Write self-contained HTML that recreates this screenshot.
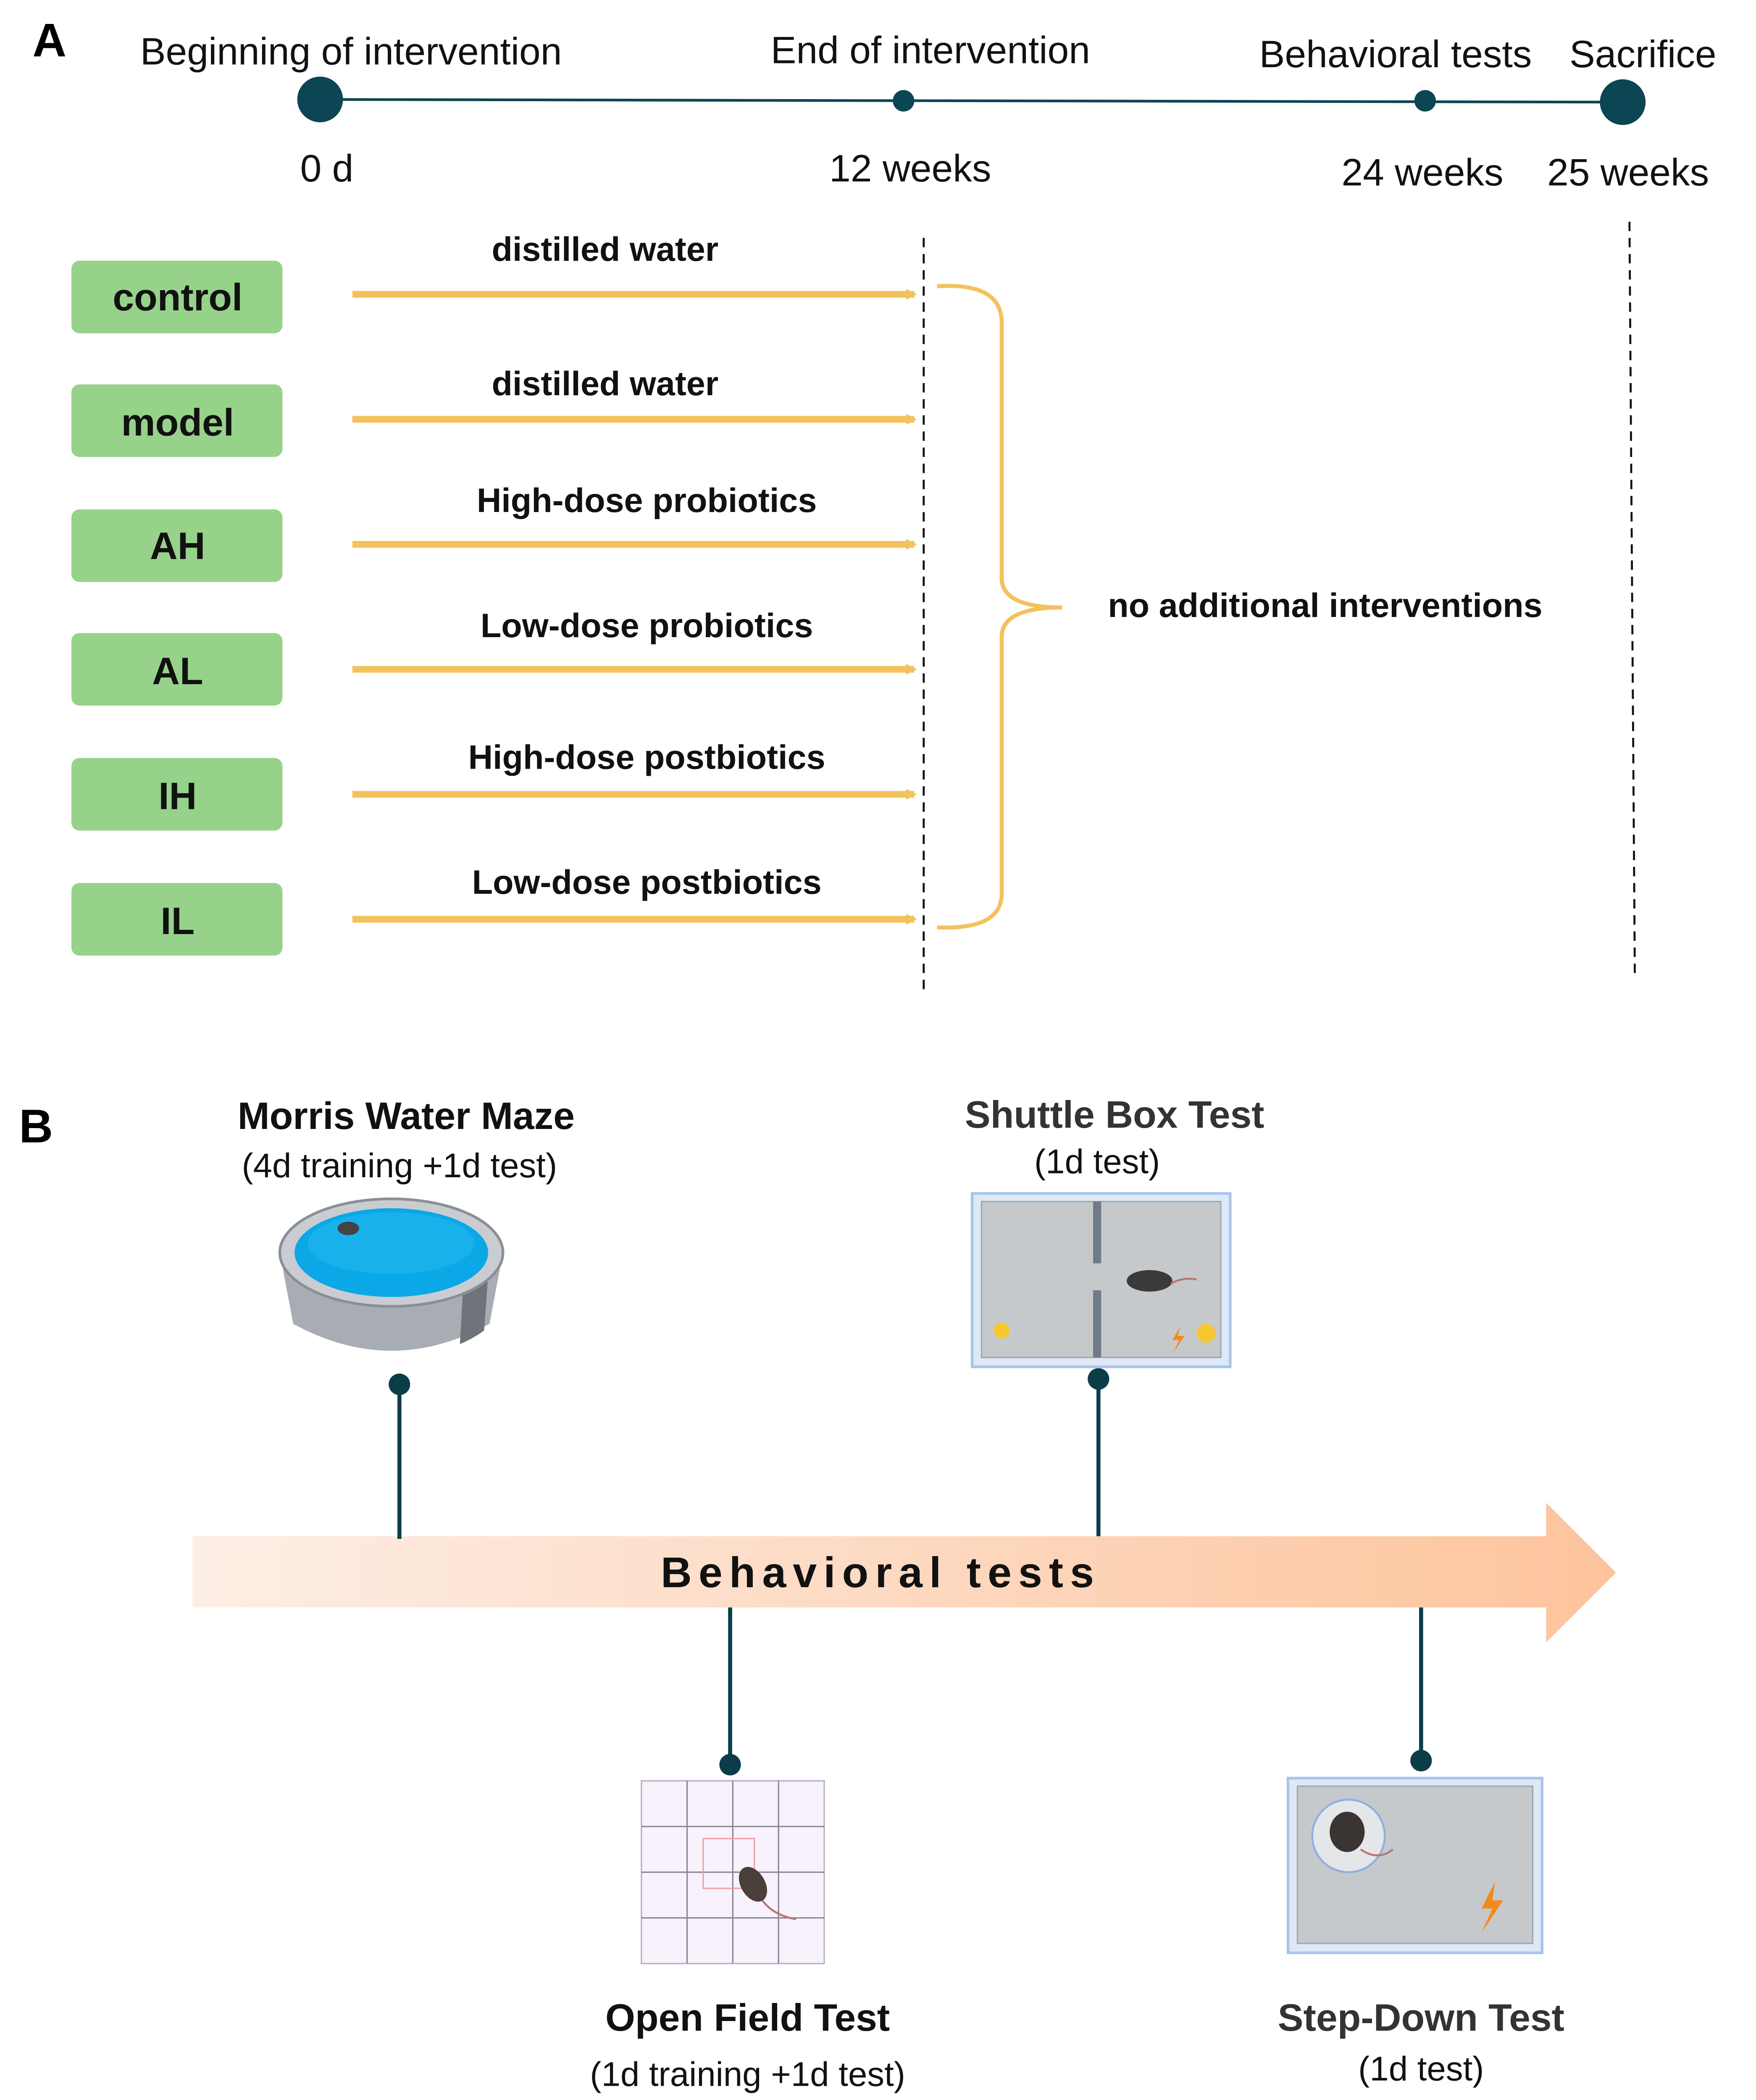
<!DOCTYPE html>
<html><head><meta charset="utf-8"><style>
html,body{margin:0;padding:0;background:#fff;overflow:hidden;width:4180px;height:5088px;}
svg{display:block;}
text{font-family:"Liberation Sans",Arial,sans-serif;}
</style></head><body>
<svg width="4180" height="5088" viewBox="0 0 1306 1590" xmlns="http://www.w3.org/2000/svg">
<defs>
<linearGradient id="ag" x1="0" x2="1" y1="0" y2="0">
<stop offset="0" stop-color="#fdeee5"/><stop offset="1" stop-color="#fdc49c"/>
</linearGradient>
<marker id="ya" markerWidth="8" markerHeight="8" refX="6" refY="4" orient="auto" markerUnits="userSpaceOnUse">
<path d="M0,0 L8,4 L0,8 z" fill="#f3c25c"/>
</marker>
</defs>
<rect width="1306" height="1590" fill="#fff"/>
<!-- Panel A -->
<text x="24" y="42" font-size="35" font-weight="bold">A</text>
<line x1="238" y1="74" x2="1207" y2="76" stroke="#0c4553" stroke-width="2"/>
<circle cx="238" cy="74" r="17" fill="#0c4553"/>
<circle cx="1207" cy="76" r="17" fill="#0c4553"/>
<circle cx="672" cy="75" r="8" fill="#0c4553"/>
<circle cx="1060" cy="75" r="8" fill="#0c4553"/>
<g font-size="28.5" fill="#111" text-anchor="middle">
<text x="261" y="48">Beginning of intervention</text>
<text x="692" y="47">End of intervention</text>
<text x="1038" y="50">Behavioral tests</text>
<text x="1222" y="50">Sacrifice</text>
<text x="243" y="135">0 d</text>
<text x="677" y="135">12 weeks</text>
<text x="1058" y="138">24 weeks</text>
<text x="1211" y="138">25 weeks</text>
</g>
<g fill="#97d28b">
<rect x="53" y="194" width="157" height="54" rx="6"/>
<rect x="53" y="286" width="157" height="54" rx="6"/>
<rect x="53" y="379" width="157" height="54" rx="6"/>
<rect x="53" y="471" width="157" height="54" rx="6"/>
<rect x="53" y="564" width="157" height="54" rx="6"/>
<rect x="53" y="657" width="157" height="54" rx="6"/>
</g>
<g font-size="28.5" font-weight="bold" text-anchor="middle" fill="#111">
<text x="132" y="231">control</text>
<text x="132" y="324">model</text>
<text x="132" y="416">AH</text>
<text x="132" y="509">AL</text>
<text x="132" y="602">IH</text>
<text x="132" y="695">IL</text>
</g>
<g stroke="#f3c25c" stroke-width="5" marker-end="url(#ya)">
<line x1="262" y1="219" x2="680" y2="219"/>
<line x1="262" y1="312" x2="680" y2="312"/>
<line x1="262" y1="405" x2="680" y2="405"/>
<line x1="262" y1="498" x2="680" y2="498"/>
<line x1="262" y1="591" x2="680" y2="591"/>
<line x1="262" y1="684" x2="680" y2="684"/>
</g>
<g font-size="25.3" font-weight="bold" text-anchor="middle" fill="#111">
<text x="450" y="194">distilled water</text>
<text x="450" y="294">distilled water</text>
<text x="481" y="381">High-dose probiotics</text>
<text x="481" y="474">Low-dose  probiotics</text>
<text x="481" y="572">High-dose postbiotics</text>
<text x="481" y="665">Low-dose postbiotics</text>
</g>
<line x1="687" y1="177" x2="687" y2="740" stroke="#111" stroke-width="1.5" stroke-dasharray="7,5"/>
<line x1="1212" y1="165" x2="1216" y2="727" stroke="#111" stroke-width="1.5" stroke-dasharray="7,5"/>
<path d="M697,213 Q745,210 745,240 L745,430 Q745,452 790,452 Q745,452 745,474 L745,665 Q745,692 697,690" fill="none" stroke="#f3c25c" stroke-width="3"/>
<text x="824" y="459" font-size="25.3" font-weight="bold" fill="#111">no additional interventions</text>

<!-- Panel B -->
<text x="14" y="850" font-size="35" font-weight="bold">B</text>
<path d="M143,1143 L1150,1143 L1150,1118 L1202,1170 L1150,1222 L1150,1196 L143,1196 z" fill="url(#ag)"/>
<text x="655" y="1181" font-size="32" font-weight="bold" text-anchor="middle" letter-spacing="5" fill="#111">Behavioral tests</text>
<g stroke="#0b3d48" stroke-width="3">
<line x1="297" y1="1030" x2="297" y2="1145"/>
<line x1="817" y1="1026" x2="817" y2="1143"/>
<line x1="543" y1="1196" x2="543" y2="1313"/>
<line x1="1057" y1="1196" x2="1057" y2="1310"/>
</g>
<g fill="#0b3d48">
<circle cx="297" cy="1030" r="8"/><circle cx="817" cy="1026" r="8"/>
<circle cx="543" cy="1313" r="8"/><circle cx="1057" cy="1310" r="8"/>
</g>
<text x="302" y="840" font-size="28.5" font-weight="bold" text-anchor="middle" fill="#111">Morris Water Maze</text>
<text x="297" y="876" font-size="25.5" text-anchor="middle" fill="#111">(4d training +1d test)</text>
<text x="829" y="839" font-size="28.5" font-weight="bold" text-anchor="middle" fill="#333">Shuttle Box Test</text>
<text x="816" y="873" font-size="25.5" text-anchor="middle" fill="#111">(1d test)</text>
<text x="556" y="1511" font-size="28.5" font-weight="bold" text-anchor="middle" fill="#111">Open Field Test</text>
<text x="556" y="1552" font-size="25.5" text-anchor="middle" fill="#111">(1d training +1d test)</text>
<text x="1057" y="1511" font-size="28.5" font-weight="bold" text-anchor="middle" fill="#333">Step-Down Test</text>
<text x="1057" y="1548" font-size="25.5" text-anchor="middle" fill="#111">(1d test)</text>

<!-- pool -->
<path d="M208,932 L218,985 Q291,1025 364,985 L374,932 z" fill="#a8adb3"/>
<path d="M345,945 L364,935 L360,990 Q350,997 342,1000 z" fill="#6f747a"/>
<ellipse cx="291" cy="932" rx="83" ry="40" fill="#c9ccd0" stroke="#8a8f95" stroke-width="2"/>
<ellipse cx="291" cy="932" rx="72" ry="33" fill="#0aa8e6"/>
<ellipse cx="291" cy="925" rx="62" ry="23" fill="#22b8f0" opacity="0.6"/>
<ellipse cx="259" cy="914" rx="8" ry="5" fill="#444"/>

<!-- shuttle box -->
<rect x="723" y="888" width="192" height="129" fill="#dde8f8" stroke="#a9c4ea" stroke-width="2"/>
<rect x="730" y="894" width="178" height="116" fill="#c6c9cc" stroke="#9aa" stroke-width="1"/>
<rect x="813" y="894" width="6" height="46" fill="#6f7c88"/>
<rect x="813" y="960" width="6" height="50" fill="#6f7c88"/>
<ellipse cx="855" cy="953" rx="17" ry="8" fill="#3a3a3a"/>
<path d="M871,955 Q880,950 890,952" stroke="#b77" fill="none" stroke-width="1.5"/>
<circle cx="745" cy="990" r="6" fill="#f7c730"/>
<circle cx="897" cy="992" r="7" fill="#f7c730"/>
<path d="M878,987 L872,997 L877,997 L873,1006 L881,994 L876,994 z" fill="#f28a1a"/>

<!-- open field -->
<rect x="477" y="1325" width="136" height="136" fill="#f7f2fb" stroke="#b8aec4" stroke-width="1"/>
<g stroke="#8c8598" stroke-width="1">
<line x1="511" y1="1325" x2="511" y2="1461"/><line x1="545" y1="1325" x2="545" y2="1461"/><line x1="579" y1="1325" x2="579" y2="1461"/>
<line x1="477" y1="1359" x2="613" y2="1359"/><line x1="477" y1="1393" x2="613" y2="1393"/><line x1="477" y1="1427" x2="613" y2="1427"/>
</g>
<rect x="523" y="1368" width="38" height="37" fill="none" stroke="#f0a0a0" stroke-width="1"/>
<ellipse cx="560" cy="1402" rx="9" ry="14" fill="#4a3f3a" transform="rotate(-30 560 1402)"/>
<path d="M567,1414 Q575,1425 592,1428" stroke="#b77" fill="none" stroke-width="1.5"/>

<!-- step down -->
<rect x="958" y="1323" width="189" height="130" fill="#dde8f8" stroke="#a9c4ea" stroke-width="2"/>
<rect x="965" y="1329" width="175" height="117" fill="#c6c9cc" stroke="#9aa" stroke-width="1"/>
<circle cx="1003" cy="1366" r="27" fill="#e5e6ea" stroke="#8fb0e0" stroke-width="1.5"/>
<ellipse cx="1002" cy="1363" rx="13" ry="15" fill="#3a3433"/>
<path d="M1012,1376 Q1025,1385 1036,1376" stroke="#b77" fill="none" stroke-width="1.5"/>
<path d="M1112,1400 L1102,1420 L1110,1420 L1102,1438 L1118,1414 L1110,1414 z" fill="#f28a1a"/>
</svg>
</body></html>
